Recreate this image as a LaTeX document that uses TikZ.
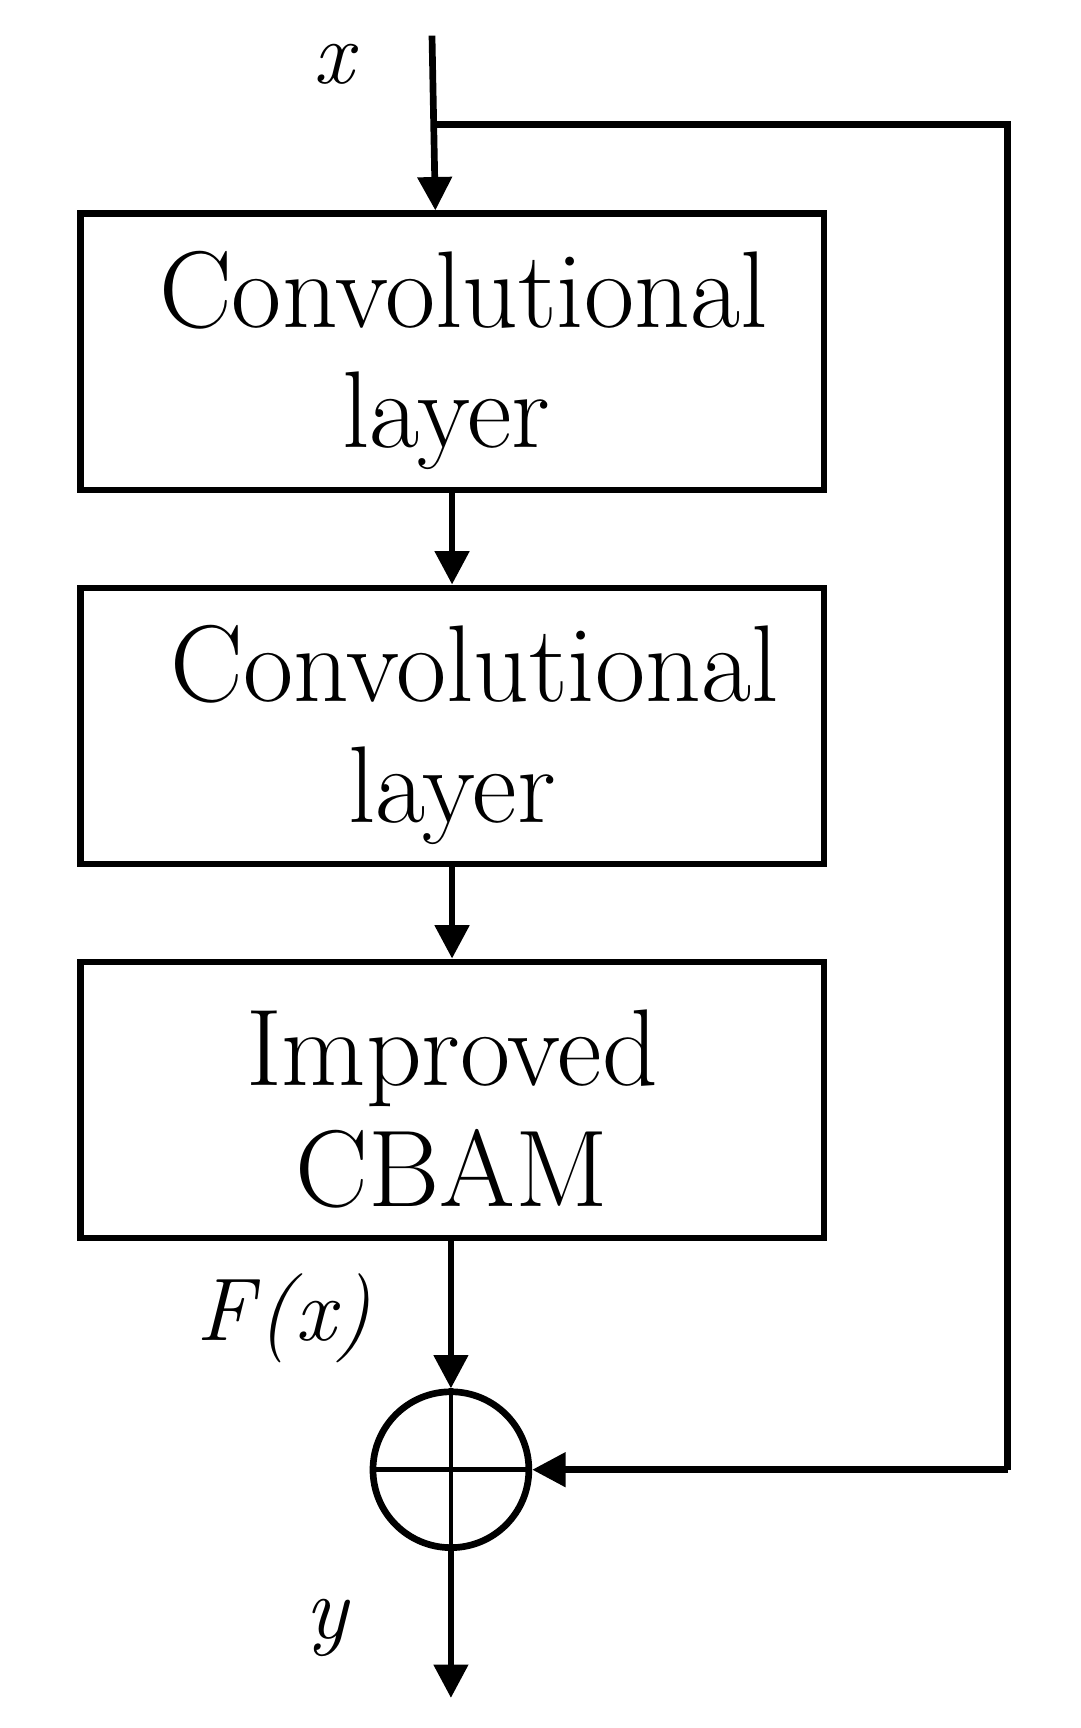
\documentclass[tikz,border=0pt]{standalone}
\usetikzlibrary{arrows.meta}
\begin{document}
\begin{tikzpicture}[x=1pt,y=-1pt,
  box/.style={draw,line width=6pt,minimum width=668pt,minimum height=248pt,inner sep=0pt,align=center,font=\fontsize{98}{108}\selectfont},
  arr/.style={line width=6pt,-{Triangle[length=30pt,width=30pt]}},
  lbl/.style={font=\fontsize{80}{90}\selectfont\itshape}]
\useasboundingbox (0,0) rectangle (970,1552);
\node[box] (b1) at (406,316) {};
\node[box] (b2) at (406,652) {};
\node[box] (b3) at (406,988) {};
\node[font=\fontsize{98}{108}\selectfont,align=center] (t1) at (b1.center) [yshift=-8pt] {\hspace*{20pt}Convolutional\\\hspace*{-10pt}layer};
\node[font=\fontsize{98}{108}\selectfont,align=center] (t2) at (b2.center) [yshift=-8pt] {\hspace*{40pt}Convolutional\\layer};
\node[font=\fontsize{98}{108}\selectfont,align=center] (t3) at (b3.center) [yshift=-8pt] {Improved\\CBAM};
\node[draw,circle,line width=6pt,minimum size=140pt,inner sep=0pt] (s) at (405,1320) {};
\draw[line width=4pt] (s.north) -- (s.south) (s.west) -- (s.east);
\coordinate (in) at (388,32);
\coordinate (br) at (390,112);
\coordinate (tr) at (905,112);
\coordinate (rr) at (905,1320);
\coordinate (out) at (405,1525);
\draw[arr] (in) -- (b1.north -| 391,0);
\draw[line width=6pt] (br) -- (tr) -- (rr);
\draw[arr] (rr) -- (s.east);
\draw[arr] (b1) -- (b2);
\draw[arr] (b2) -- (b3);
\draw[arr] (b3.south -| s.north) -- (s.north);
\draw[arr] (s.south) -- (out);
\node[lbl] (lx) at (300,58) {x};
\node[lbl] (lf) at (255,1184) {F\kern4pt(\kern2pt x)};
\node[lbl] (ly) at (293,1462) {y};
\end{tikzpicture}
\end{document}
